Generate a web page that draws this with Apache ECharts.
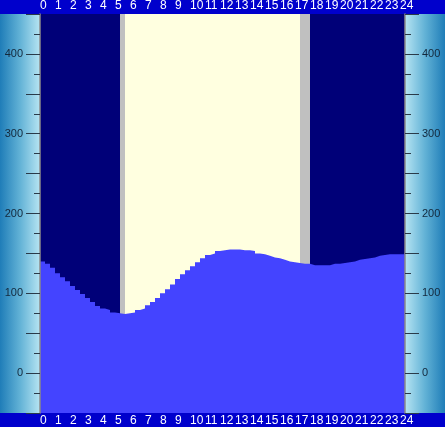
<!DOCTYPE html>
<html>
<head>
<meta charset="utf-8">
<script src="https://cdn.jsdelivr.net/npm/echarts@6/dist/echarts.min.js"></script>
<style>
  html, body { margin: 0; padding: 0; background: #0000cc; }
  #tide { width: 445px; height: 427px; }
</style>
</head>
<body>
<div id="tide"></div>
<script>
// water level, one value every 20 minutes from 0:00 to 24:00
var stepHours = 1 / 3;
var levels = [140, 137, 132, 125, 120, 115, 109, 104, 99, 94, 89, 84,
              81, 79, 76, 75, 74, 75, 76, 79, 81, 85, 89, 94,
              100, 105, 111, 118, 124, 129, 134, 139, 144, 148, 150, 153,
              154, 155, 155, 155, 154, 154, 153, 150, 149, 147, 145, 144,
              142, 140, 139, 138, 137, 137, 135, 135, 135, 135, 137, 137,
              138, 139, 140, 142, 143, 144, 145, 147, 148, 149, 149, 149,
              149];
// twilight bands (hours)
var dawn = [5 + 20 / 60, 5 + 40 / 60];
var dusk = [17 + 20 / 60, 18];
var hourTicks = [0, 24];
var levelTicks = [0, 100, 200, 300, 400];

var endHour = levels.length * stepHours;

var levelData = [];
for (var i = 0; i < levels.length; i++) {
	levelData.push([i * stepHours, levels[i]]);
}
levelData.push([endHour, levels[levels.length - 1]]);

var bands = [
	[{xAxis: 0, itemStyle: {color: '#000078'}}, {xAxis: dawn[0]}],
	[{xAxis: dawn[0], itemStyle: {color: '#c0c0c0'}}, {xAxis: dawn[1]}],
	[{xAxis: dawn[1], itemStyle: {color: '#ffffe0'}}, {xAxis: dusk[0]}],
	[{xAxis: dusk[0], itemStyle: {color: '#c0c0c0'}}, {xAxis: dusk[1]}],
	[{xAxis: dusk[1], itemStyle: {color: '#000078'}}, {xAxis: endHour}]
];

function hourLabel(v) {
	return (Math.abs(v - Math.round(v)) < 1e-6 && v >= hourTicks[0] && v <= hourTicks[1]) ? String(Math.round(v)) : '';
}
function levelLabel(v) {
	return levelTicks.indexOf(v) >= 0 ? String(v) : '';
}

function hourAxis(pos) {
	return {
		type: 'value',
		position: pos,
		min: 0,
		max: endHour,
		interval: 1,
		axisLine: {show: false, onZero: false},
		axisTick: {show: false},
		splitLine: {show: false},
		axisLabel: {
			formatter: hourLabel,
			showMaxLabel: false,
			align: 'left',
			margin: 2,
			color: '#ffffff',
			fontSize: 12,
			fontFamily: 'Liberation Sans, Arial, sans-serif'
		}
	};
}

function levelAxis(pos) {
	return {
		type: 'value',
		position: pos,
		min: -50,
		max: 450,
		interval: 50,
		z: 10,
		axisLine: {show: true, onZero: false, lineStyle: {color: '#8a8a8a', width: 1.5}},
		axisTick: {show: true, length: 14, lineStyle: {color: '#2a3a48'}},
		minorTick: {show: true, splitNumber: 2, length: 6, lineStyle: {color: '#2a3a48'}},
		splitLine: {show: false},
		axisLabel: {
			formatter: levelLabel,
			margin: 17,
			color: '#13283c',
			fontSize: 11,
			fontFamily: 'Liberation Sans, Arial, sans-serif'
		}
	};
}

var chart = echarts.init(document.getElementById('tide'));
chart.setOption({
	backgroundColor: '#0000cc',
	animation: false,
	grid: {left: 40, right: 40, top: 14, bottom: 14},
	graphic: [
		{
			type: 'rect', z: -5,
			shape: {x: 0, y: 14, width: 40, height: 399},
			style: {fill: new echarts.graphic.LinearGradient(0, 0, 1, 0, [
				{offset: 0, color: '#1f7db8'},
				{offset: 0.5, color: '#62b2d6'},
				{offset: 1, color: '#b6e4f2'}
			])}
		},
		{
			type: 'rect', z: -5,
			shape: {x: 405, y: 14, width: 40, height: 399},
			style: {fill: new echarts.graphic.LinearGradient(0, 0, 1, 0, [
				{offset: 0, color: '#b6e4f2'},
				{offset: 0.5, color: '#62b2d6'},
				{offset: 1, color: '#1f7db8'}
			])}
		}
	],
	xAxis: [hourAxis('top'), hourAxis('bottom')],
	yAxis: [levelAxis('left'), levelAxis('right')],
	series: [
		{
			name: 'daylight',
			type: 'line',
			data: [],
			z: 1,
			markArea: {silent: true, data: bands}
		},
		{
			name: 'level',
			type: 'line',
			step: 'end',
			data: levelData,
			z: 2,
			symbol: 'none',
			lineStyle: {width: 0, opacity: 0},
			areaStyle: {color: '#4444ff', opacity: 1, origin: 'start'}
		}
	]
});
</script>
</body>
</html>
